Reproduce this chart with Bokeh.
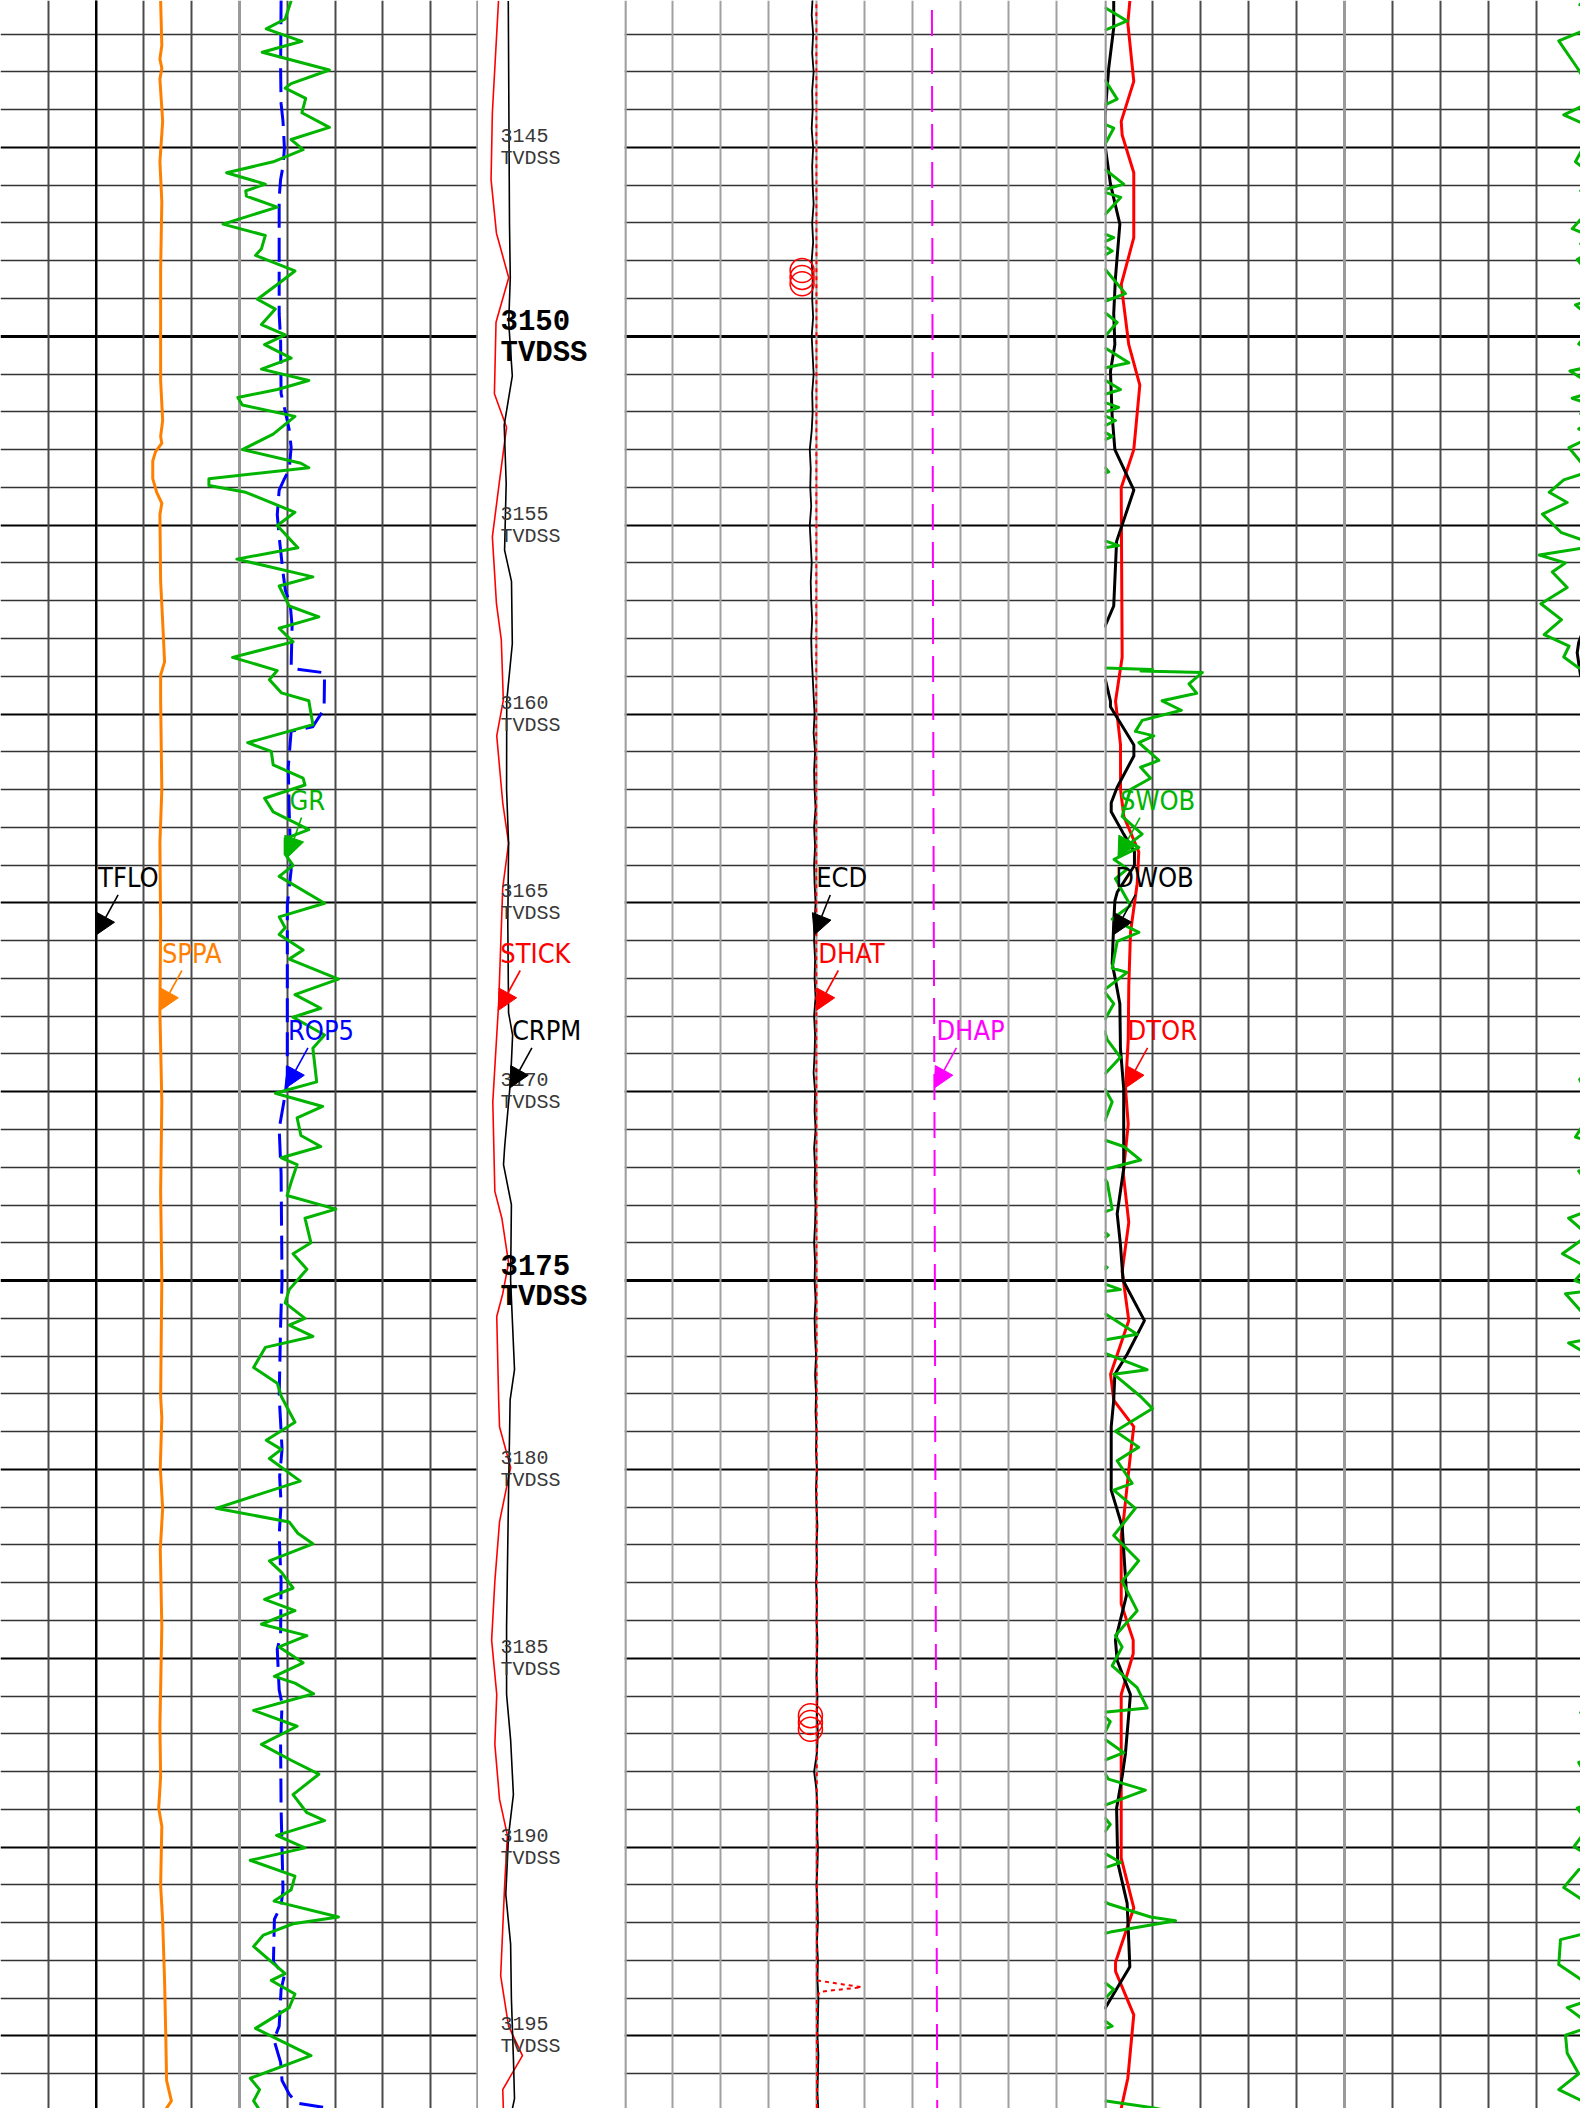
import numpy as np
from bokeh.plotting import figure
from bokeh.layouts import row
from bokeh.models import Range1d, Grid, FixedTicker, Span, Arrow, NormalHead
from bokeh.core.properties import value
from bokeh.embed import file_html
from bokeh.resources import INLINE

# ------------------------------------------------------------------ data
DEPTH_TICKS = list(range(3141, 3198))
DEPTH_LABELS = [3145, 3150, 3155, 3160, 3165, 3170, 3175, 3180, 3185, 3190, 3195]

GR_DEPTH = [3141.12, 3141.60, 3141.86, 3142.19, 3142.48, 3142.95, 3143.31, 3143.43, 3143.70, 3144.08,
            3144.47, 3144.79, 3145.06, 3145.38, 3145.67, 3145.97, 3146.15, 3146.29, 3146.58, 3147.03,
            3147.33, 3147.68, 3147.86, 3148.27, 3148.63, 3149.02, 3149.28, 3149.69, 3149.96, 3150.22,
            3150.58, 3150.87, 3151.17, 3151.41, 3151.62, 3151.82, 3152.12, 3152.59, 3153.00, 3153.36,
            3153.48, 3153.77, 3153.95, 3154.13, 3154.66, 3155.01, 3155.60, 3155.90, 3156.37, 3156.61,
            3157.14, 3157.43, 3157.73, 3158.09, 3158.50, 3158.85, 3159.09, 3159.44, 3159.65,
            3160.28, 3160.76, 3160.99, 3161.35, 3161.70, 3161.88, 3162.23, 3162.59, 3163.06, 3163.30,
            3163.71, 3164.01, 3164.30, 3165.01, 3165.37, 3165.66, 3165.84, 3166.25, 3166.49, 3167.02,
            3167.43, 3167.79, 3168.03, 3168.50, 3168.85, 3169.74, 3170.04, 3170.39, 3170.69, 3171.16,
            3171.45, 3171.75, 3171.93, 3172.40, 3172.75, 3173.11, 3173.35, 3174.00, 3174.29, 3174.70,
            3175.24, 3175.59, 3176.00, 3176.18, 3176.48, 3176.77, 3177.30, 3177.72, 3178.07,
            3178.75, 3179.23, 3179.47, 3179.71, 3180.31, 3181.03, 3181.39, 3181.69, 3181.97, 3182.42,
            3182.72, 3183.14, 3183.44, 3183.74, 3184.10, 3184.40, 3184.70, 3185.12, 3185.48, 3185.66,
            3185.94, 3186.38, 3186.80, 3187.28, 3187.70, 3188.07, 3188.61, 3189.09, 3189.30, 3189.69,
            3190.02, 3190.35, 3190.77, 3191.13, 3191.43, 3191.85, 3192.03, 3192.33, 3192.63, 3193.35,
            3193.53, 3193.89, 3194.25, 3194.80, 3195.52, 3196.12, 3196.42, 3196.72, 3196.96]
GR = [121.6, 119.1, 111.2, 126.1, 109.5, 137.6, 121.6, 119.1, 127.7, 126.1,
      137.6, 121.6, 126.6, 114.1, 94.6, 110.8, 102.6, 102.9, 115.8, 93.1,
      110.8, 109.2, 106.7, 123.2, 115.8, 107.5, 115.0, 109.2, 119.1, 110.5,
      121.6, 109.2, 129.0, 115.8, 99.3, 101.2, 123.2, 114.1, 101.2, 125.7,
      129.0, 87.2, 87.2, 102.6, 123.2, 115.8, 124.4, 98.9, 130.7, 116.6,
      120.8, 133.2, 116.6, 122.4, 97.1, 115.8, 112.5, 117.5, 129.0,
      130.7, 103.4, 113.3, 114.1, 126.6, 127.4, 110.5, 114.1, 129.0, 119.1,
      119.1, 122.4, 116.6, 135.6, 116.6, 119.1, 116.6, 126.6, 120.8, 141.4,
      123.2, 134.0, 122.4, 135.6, 130.7, 132.3, 115.0, 134.8, 124.1, 125.7,
      134.0, 117.5, 124.1, 121.6, 119.9, 140.3, 127.4, 129.9, 122.4, 128.2,
      120.8, 119.1, 127.4, 120.8, 130.7, 110.8, 105.9, 115.8, 117.5,
      123.2, 111.2, 117.5, 112.5, 125.4, 90.2, 120.8, 124.4, 130.7, 112.5,
      117.5, 122.4, 110.5, 123.2, 109.2, 128.2, 116.6, 126.6, 114.6, 123.2,
      131.0, 105.9, 124.1, 109.2, 121.6, 133.2, 122.4, 128.2, 135.6, 115.5,
      127.4, 104.5, 123.2, 121.6, 114.5, 141.4, 122.4, 110.0, 105.9, 119.1,
      113.3, 123.2, 120.8, 106.7, 129.9, 104.5, 108.4, 105.9, 108.4]

ROP5_DEPTH = [3141.10, 3142.90, 3143.84, 3144.31, 3145.02, 3145.50, 3145.85, 3146.32, 3149.40, 3150.11,
              3151.52, 3152.00, 3152.47, 3152.94, 3153.53, 3153.77, 3154.07, 3154.72, 3155.31, 3156.25,
              3156.73, 3157.08, 3157.67, 3158.79, 3158.91, 3159.87, 3160.34, 3160.46, 3161.41, 3162.59,
              3164.13, 3165.07, 3169.56, 3170.04, 3170.98, 3172.16, 3175.00, 3176.18, 3178.07, 3178.75,
              3179.47, 3180.19, 3180.91, 3181.75, 3182.96, 3184.40, 3184.76, 3185.84, 3186.20, 3187.28,
              3188.97, 3191.13, 3191.55, 3191.91, 3193.05, 3193.39, 3193.77, 3194.74, 3195.10, 3195.70,
              3196.18, 3196.54, 3196.78, 3196.92]
ROP5 = [58.7, 58.6, 58.7, 59.1, 59.4, 59.1, 58.6, 58.3, 58.3, 58.6,
        58.7, 59.6, 60.4, 60.8, 60.4, 59.4, 58.3, 57.9, 58.3, 59.1,
        59.6, 60.6, 61.0, 60.8, 67.8, 67.7, 65.3, 60.8, 60.2, 60.4,
        60.8, 60.0, 60.0, 59.6, 58.3, 58.7, 58.9, 58.6, 58.3, 58.6,
        58.9, 58.4, 58.7, 58.3, 58.7, 58.6, 57.9, 58.3, 58.9, 58.6,
        58.7, 59.1, 58.7, 57.3, 57.1, 59.4, 58.7, 58.3, 57.2, 58.6,
        58.9, 60.4, 62.0, 69.1]

SPPA_DEPTH = [3141.12, 3142.30, 3142.66, 3142.90, 3143.19, 3144.31, 3145.38, 3146.44, 3148.22, 3151.17,
              3152.23, 3152.65, 3152.83, 3153.06, 3153.30, 3153.77, 3154.13, 3154.42, 3154.72, 3156.49,
              3157.55, 3158.62, 3158.97, 3159.65, 3162.00, 3163.42, 3165.54, 3167.91, 3170.27, 3172.64,
              3175.00, 3178.07, 3178.63, 3179.95, 3181.03, 3182.12, 3184.16, 3186.80, 3188.13, 3188.97,
              3189.45, 3191.01, 3191.97, 3193.53, 3194.98, 3196.18, 3196.72, 3196.99]
SPPA = [134.0, 135.0, 133.4, 135.0, 133.4, 135.7, 133.4, 135.0, 134.0, 134.0,
        135.7, 134.0, 135.0, 129.7, 127.4, 127.4, 130.7, 135.0, 133.4, 134.0,
        135.7, 137.3, 134.0, 134.0, 135.0, 133.4, 134.0, 133.4, 135.0, 134.0,
        135.0, 134.0, 135.0, 133.7, 135.7, 133.7, 135.0, 133.4, 134.0, 132.4,
        135.0, 134.0, 135.7, 137.3, 138.3, 139.0, 143.0, 137.3]

TFLO_DEPTH = [3141.0, 3160.0, 3180.0, 3197.0]
TFLO = [1000.0, 1000.0, 1000.0, 1000.0]

STICK_DEPTH = [3141.12, 3144.08, 3145.85, 3147.27, 3148.45, 3149.63, 3151.52, 3152.41, 3153.89, 3155.31,
               3157.08, 3158.03, 3159.63, 3160.58, 3162.35, 3163.42, 3164.60, 3167.67, 3168.50, 3170.27,
               3172.64, 3173.35, 3174.53, 3175.35, 3175.95, 3178.15, 3178.87, 3179.95, 3181.39, 3182.96,
               3184.52, 3185.96, 3187.28, 3188.73, 3189.69, 3191.01, 3193.41, 3194.74, 3195.52, 3196.42,
               3197.00]
STICK = [13.7, 9.5, 8.6, 12.3, 20.7, 12.0, 10.9, 19.2, 14.2, 9.5,
         12.3, 15.6, 17.0, 12.5, 16.6, 20.6, 16.6, 13.8, 12.5, 9.8,
         11.2, 16.0, 20.6, 16.6, 12.5, 13.8, 14.4, 22.0, 14.4, 11.2,
         9.0, 12.5, 11.2, 14.4, 19.8, 17.9, 15.2, 20.6, 30.1, 16.6,
         17.1]

CRPM_DEPTH = [3141.12, 3147.03, 3148.45, 3149.63, 3151.05, 3152.35, 3153.89, 3155.66, 3156.49, 3158.14,
              3159.66, 3162.00, 3163.42, 3165.54, 3167.91, 3168.50, 3169.68, 3171.45, 3171.93, 3172.99,
              3175.00, 3177.36, 3178.16, 3180.55, 3184.16, 3185.96, 3187.16, 3188.61, 3189.69, 3191.25,
              3192.57, 3194.01, 3195.58, 3196.66, 3197.00]
CRPM = [61.2, 63.7, 65.3, 62.1, 69.5, 52.8, 56.9, 53.6, 67.8, 69.5,
        58.0, 57.7, 61.8, 60.2, 61.8, 70.1, 66.0, 53.8, 51.4, 67.6,
        66.0, 74.0, 65.0, 61.8, 57.7, 57.7, 66.0, 71.7, 61.8, 56.1,
        66.0, 67.6, 71.7, 74.0, 68.4]

ECD_DEPTH = np.arange(3141.0, 3197.01, 0.5)
ECD = [1.192, 1.190, 1.193, 1.191, 1.194, 1.191, 1.192, 1.190, 1.193, 1.191,
       1.192, 1.194, 1.191, 1.193, 1.190, 1.192, 1.191, 1.193, 1.190, 1.192,
       1.194, 1.191, 1.192, 1.190,
       1.186, 1.188, 1.187, 1.189, 1.186, 1.188, 1.190, 1.188, 1.189, 1.191,
       1.189, 1.190,
       1.192, 1.194, 1.196, 1.194, 1.197, 1.195, 1.196, 1.198, 1.195, 1.197,
       1.195, 1.196, 1.198, 1.196, 1.195, 1.197, 1.196, 1.198, 1.195, 1.197,
       1.196, 1.194, 1.197, 1.196, 1.198, 1.195, 1.197, 1.196, 1.198, 1.197,
       1.195, 1.197, 1.196, 1.198, 1.196, 1.197, 1.199, 1.197,
       1.199, 1.198, 1.200, 1.199, 1.201, 1.199, 1.200, 1.202, 1.200, 1.201,
       1.199, 1.201, 1.200, 1.202, 1.201, 1.200, 1.202, 1.201, 1.203, 1.201,
       1.195, 1.200, 1.202, 1.201, 1.203, 1.202, 1.200, 1.202, 1.203, 1.201,
       1.203, 1.202, 1.204, 1.203, 1.202, 1.204, 1.203, 1.202, 1.204]

DHAT_DEPTH = [3141.0, 3150.0, 3160.0, 3170.0, 3180.0, 3190.0, 3193.50, 3193.53, 3193.71, 3193.83, 3194.0, 3197.0]
DHAT = [59.95, 59.98, 59.9, 59.95, 60.05, 60.1, 60.1, 60.2, 74.1, 61.0, 60.1, 60.15]

DHAP_DEPTH = [3141.36, 3150.0, 3159.0, 3165.0, 3170.0, 3178.0, 3186.0, 3192.0, 3197.0]
DHAP = [384.3, 385.0, 385.8, 386.5, 387.4, 388.3, 389.4, 390.2, 390.9]

MARK_DEPTH = [3148.26, 3148.44, 3148.61, 3186.52, 3186.70, 3186.88]
MARK = [55.5, 55.5, 55.5, 58.1, 58.1, 58.1]

DWOB_DEPTH = [3141.12, 3141.83, 3142.90, 3144.20, 3145.02, 3145.97, 3147.03, 3148.45, 3149.40, 3150.22,
              3150.93, 3152.12, 3153.00, 3154.07, 3155.43, 3157.14, 3157.73, 3158.10, 3158.38, 3158.97,
              3159.10, 3159.66, 3159.81, 3160.82, 3161.11, 3161.94, 3162.35, 3162.59, 3163.18, 3163.65,
              3164.01, 3164.72, 3164.95, 3165.54, 3166.61, 3166.96, 3167.67, 3168.85, 3169.92, 3170.98,
              3172.04, 3173.23, 3174.05, 3175.00, 3176.06, 3176.95, 3177.48, 3178.17, 3178.87, 3180.55,
              3181.51, 3183.32, 3184.52, 3185.06, 3185.96, 3187.52, 3188.13, 3188.97, 3190.41, 3191.49,
              3193.17, 3194.31, 3194.60, 3197.00]
DWOB = [0.48, 0.48, 0.22, 0.02, 0.05, 0.31, 0.80, 0.57, 0.48, 0.54,
        0.31, 0.40, 0.54, 1.53, 0.63, 0.48, -0.02, -0.30, -0.38, -0.21,
        0.05, 0.31, 0.31, 1.53, 1.53, 0.66, 0.35, 0.35, 1.00, 1.56,
        1.56, 0.66, 0.54, 0.48, 0.40, 0.54, 0.80, 0.83, 1.00, 1.00,
        1.00, 0.66, 0.83, 0.97, 2.08, 1.18, 0.54, 0.48, 0.35, 0.35,
        0.92, 1.15, 0.57, 0.66, 1.35, 1.09, 0.92, 0.63, 0.69, 1.18,
        1.32, -0.02, -0.12, -0.12]

DTOR_DEPTH = [3141.12, 3141.71, 3143.25, 3144.31, 3144.67, 3145.67, 3147.39, 3148.63, 3150.22, 3151.29,
              3153.00, 3154.01, 3158.50, 3159.66, 3160.82, 3162.00, 3162.71, 3163.65, 3164.48, 3165.78,
              3167.20, 3168.62, 3169.92, 3170.86, 3172.16, 3173.46, 3174.76, 3176.06, 3177.48, 3178.17,
              3178.87, 3179.59, 3181.27, 3181.75, 3183.56, 3184.52, 3184.88, 3185.96, 3190.29, 3191.61,
              3193.05, 3193.29, 3194.44, 3196.12, 3197.00]
DTOR = [2.64, 2.43, 3.05, 1.74, 1.84, 3.05, 3.05, 1.74, 2.53, 3.68,
        3.05, 1.74, 1.84, 1.15, 1.67, 1.67, 2.01, 3.57, 3.41, 2.71,
        2.53, 2.47, 2.19, 2.47, 1.95, 2.53, 1.84, 2.53, 0.63, 0.97,
        3.05, 2.71, 2.01, 1.74, 1.74, 2.99, 2.99, 1.74, 1.74, 3.05,
        1.15, 1.15, 3.05, 2.43, 1.67]

SWOB_DEPTH = [3141.20, 3141.65, 3142.18, 3142.89, 3143.72, 3144.14, 3144.49, 3145.38, 3145.97, 3146.15,
              3146.32, 3147.15, 3147.39, 3147.55, 3147.74, 3147.97, 3148.87, 3149.17, 3149.63, 3150.20,
              3150.70, 3150.92, 3151.41, 3151.64, 3151.88, 3152.05, 3152.23, 3152.45, 3152.65, 3152.95,
              3153.59, 3153.80, 3154.13, 3154.40, 3154.71, 3155.20, 3155.54, 3155.79, 3156.00, 3156.24,
              3156.65, 3157.08, 3157.50, 3157.90, 3158.20, 3158.49, 3158.78, 3158.82, 3158.86, 3158.90,
              3159.20, 3159.45, 3159.65, 3159.90, 3160.17, 3160.46, 3160.58, 3160.76, 3161.23, 3161.41,
              3161.70, 3162.00, 3162.71, 3163.18, 3163.42, 3163.53, 3163.85, 3164.10, 3164.36, 3165.07,
              3165.43, 3165.78, 3166.02, 3166.73, 3166.84, 3167.32, 3167.67, 3168.20, 3168.62, 3169.09,
              3169.68, 3170.27, 3170.86, 3171.20, 3171.45, 3171.81, 3172.10, 3172.40, 3173.11, 3173.35,
              3173.80, 3174.29, 3174.65, 3175.00, 3175.24, 3175.35, 3175.80, 3176.42, 3176.65, 3176.95,
              3177.36, 3177.48, 3178.07, 3178.39, 3178.99, 3179.41, 3179.77, 3180.37, 3180.55, 3181.03,
              3181.75, 3182.42, 3182.96, 3183.74, 3184.40, 3184.70, 3185.20, 3185.78, 3186.32, 3186.44,
              3186.68, 3187.10, 3187.50, 3187.76, 3188.20, 3188.49, 3188.97, 3189.40, 3189.99, 3190.41,
              3190.60, 3191.07, 3191.50, 3191.85, 3191.95, 3192.25, 3192.45, 3193.11, 3193.50, 3193.77,
              3194.13, 3194.25, 3194.74, 3194.98, 3195.46, 3196.00, 3196.42, 3196.70, 3196.90, 3197.00]
SWOB = [-0.30, 1.18, -1.34, -0.38, 0.66, -1.08, 0.48, -0.47, 1.00, -0.20,
        0.85, -0.64, 0.48, -0.20, 0.40, -0.38, 1.09, -0.47, 0.66, -0.30,
        1.27, -0.76, 0.83, -0.64, 0.74, -0.20, 0.57, -0.30, 0.40, -0.81,
        0.22, -1.08, -1.84, -0.90, -2.19, -1.20, 0.74, -2.36, -1.00, -1.68,
        -0.90, -2.27, -1.20, -2.10, -0.80, -1.08, -0.30, 2.50, 1.90, 5.10,
        4.40, 4.80, 3.00, 4.00, 1.96, 1.61, 2.57, 1.79, 2.83, 1.88,
        2.40, 1.35, 0.92, 1.96, 1.35, 1.79, 0.50, 1.20, 0.57, 1.35,
        0.40, 1.79, 0.66, 0.40, 1.18, -0.05, 0.48, -0.10, 0.14, 0.83,
        -0.25, 0.40, -0.05, -0.47, 1.00, 1.88, -0.30, 0.14, 0.40, -0.83,
        0.20, -1.15, 0.14, -0.50, 0.83, -0.99, -0.20, 1.70, -0.83, 0.14,
        2.22, 0.48, 1.88, 2.50, 0.57, 1.78, 0.66, 1.44, 0.48, 1.61,
        0.48, 1.78, 0.92, 1.70, 0.57, 0.92, 0.40, 1.70, 2.22, -0.20,
        0.30, -0.10, 1.01, -0.30, 0.20, 2.13, -0.38, 0.30, -0.55, 0.83,
        -0.30, -1.08, 0.20, 2.40, 3.70, 0.30, -1.25, -1.34, -0.20, 0.48,
        -0.20, -0.90, 0.40, -0.99, -0.90, -0.30, -1.34, -0.20, 2.50, 3.50]

# curve scales: (left value, right value) across the track
SCALES = {"TFLO": (0, 5000), "SPPA": (0, 400), "GR": (0, 200), "ROP5": (0, 100),
          "STICK": (0, 100), "CRPM": (0, 300),
          "ECD": (0.8, 1.8), "DHAT": (0, 150), "DHAP": (0, 600),
          "DWOB": (0, 25), "DTOR": (0, 50), "SWOB": (0, 25)}

# ------------------------------------------------------------------ layout
H = 2108
PXM = 37.77                      # pixels per metre
TOP = 3150 - 335.8 / PXM
BOTTOM = TOP + H / PXM
yr = Range1d(BOTTOM, TOP)
LBL_FONT = value("Liberation Sans Narrow, DejaVu Sans Condensed, Liberation Sans, sans-serif")
MONO = value("Liberation Mono")
ROWS = [3163.8, 3165.85, 3167.85, 3169.9]

def make_fig(width, a, b):
    p = figure(width=width, height=H, x_range=Range1d(a, b), y_range=yr,
               x_axis_type=None, y_axis_type=None, toolbar_location=None,
               output_backend="svg", min_border=0)
    p.outline_line_color = None
    p.background_fill_color = "white"
    p.border_fill_color = "white"
    return p

def add_range(p, name, a, b):
    lo, hi = SCALES[name]
    p.extra_x_ranges[name] = Range1d(lo + (hi - lo) * a / 10.0, lo + (hi - lo) * b / 10.0)

def hgrid(p):
    minor = [d for d in DEPTH_TICKS if d % 5 != 0]
    mid = [d for d in DEPTH_TICKS if d % 5 == 0 and d % 25 != 0]
    major = [d for d in DEPTH_TICKS if d % 25 == 0]
    for ticks, col, w in [(minor, "#333333", 1.5), (mid, "black", 2.0), (major, "black", 3.2)]:
        p.add_layout(Grid(dimension=1, ticker=FixedTicker(ticks=ticks),
                          grid_line_color=col, grid_line_width=w))

def vgrid(p, ticks, col, w):
    p.add_layout(Grid(dimension=0, ticker=FixedTicker(ticks=ticks),
                      grid_line_color=col, grid_line_width=w))

def wrap(d, v, lo, hi):
    span = hi - lo
    xs, ys = [], []
    for i in range(len(v)):
        if i > 0:
            v0, v1 = v[i - 1], v[i]
            if (v0 - lo) * (v1 - lo) < 0:
                t = (lo - v0) / (v1 - v0)
                dz = d[i - 1] + t * (d[i] - d[i - 1])
                if v0 >= lo:
                    xs += [lo, np.nan, hi]
                else:
                    xs += [hi, np.nan, lo]
                ys += [dz, np.nan, dz]
        xs.append(v[i] if v[i] >= lo else v[i] + span)
        ys.append(d[i])
    return np.array(xs, dtype=float), np.array(ys, dtype=float)

def label(p, name, depth, vals, tip_d, color, divpx, dx=22):
    lo, hi = SCALES[name]
    upp = (hi - lo) / (10.0 * divpx)
    tx = float(np.interp(tip_d, depth, vals))
    p.add_layout(Arrow(end=NormalHead(size=20, fill_color=color, line_color=color, line_width=1),
                       x_start=tx + dx * upp, y_start=tip_d - 40.0 / PXM,
                       x_end=tx, y_end=tip_d, line_color=color, line_width=1.6,
                       x_range_name=name))
    p.text(x=[tx], y=[tip_d], text=[name], x_offset=2, y_offset=-57,
           text_baseline="alphabetic", text_align="left", text_font=LBL_FONT,
           text_font_size="27px", text_color=color, x_range_name=name)

# ---------------- track 1
p1 = make_fig(478, 0, 10)
hgrid(p1)
vgrid(p1, [1, 2, 3, 4, 6, 7, 8, 9], "#4a4a4a", 2)
vgrid(p1, [5], "#9a9a9a", 3)
p1.add_layout(Span(location=10 - 1.0 / 47.8, dimension="height", line_color="#9a9a9a", line_width=2.5))
for n in ["TFLO", "SPPA", "GR", "ROP5"]:
    add_range(p1, n, 0, 10)
p1.line(TFLO, TFLO_DEPTH, x_range_name="TFLO", line_color="black", line_width=2.2)
p1.line(SPPA, SPPA_DEPTH, x_range_name="SPPA", line_color="#ff8000", line_width=3, line_join="round")
p1.line(ROP5, ROP5_DEPTH, x_range_name="ROP5", line_color="#0000ff", line_width=3, line_dash="24 10")
p1.line(GR, GR_DEPTH, x_range_name="GR", line_color="#00b400", line_width=3, line_join="round")
label(p1, "GR", GR_DEPTH, GR, ROWS[0], "#00b400", 47.8, dx=14)
label(p1, "TFLO", TFLO_DEPTH, TFLO, ROWS[1], "black", 47.8)
label(p1, "SPPA", SPPA_DEPTH, SPPA, ROWS[2], "#ff8000", 47.8)
label(p1, "ROP5", ROP5_DEPTH, ROP5, ROWS[3], "#0000ff", 47.8)

# ---------------- depth track
p2 = make_fig(146, 0, 10)
for n in ["STICK", "CRPM"]:
    add_range(p2, n, 0, 10)
p2.line(STICK, STICK_DEPTH, x_range_name="STICK", line_color="red", line_width=1.6)
p2.line(CRPM, CRPM_DEPTH, x_range_name="CRPM", line_color="black", line_width=1.6)
norm = [d for d in DEPTH_LABELS if d % 25 != 0]
bold = [d for d in DEPTH_LABELS if d % 25 == 0]
p2.text(x=[0] * len(norm), y=norm, text=[str(d) for d in norm], x_offset=22, y_offset=-12,
        text_baseline="alphabetic", text_font=MONO, text_font_size="20px", text_color="#383838")
p2.text(x=[0] * len(norm), y=norm, text=["TVDSS"] * len(norm), x_offset=22, y_offset=11,
        text_baseline="alphabetic", text_font=MONO, text_font_size="20px", text_color="#383838")
p2.text(x=[0] * len(bold), y=bold, text=[str(d) for d in bold], x_offset=22, y_offset=-16,
        text_baseline="alphabetic", text_font=MONO, text_font_size="29px", text_font_style="bold",
        text_color="black")
p2.text(x=[0] * len(bold), y=bold, text=["TVDSS"] * len(bold), x_offset=22, y_offset=17,
        text_baseline="alphabetic", text_font=MONO, text_font_size="29px", text_font_style="bold",
        text_color="black")
label(p2, "STICK", STICK_DEPTH, STICK, ROWS[2], "red", 14.6)
label(p2, "CRPM", CRPM_DEPTH, CRPM, ROWS[3], "black", 14.6)

# ---------------- track 3
p3 = make_fig(480, 0, 10)
hgrid(p3)
vgrid(p3, [1, 2, 3, 4, 5, 6, 7, 8, 9], "#a0a0a0", 2)
p3.add_layout(Span(location=1.0 / 48, dimension="height", line_color="#a0a0a0", line_width=2.5))
for n in ["ECD", "DHAT", "DHAP"]:
    add_range(p3, n, 0, 10)
p3.line(DHAP, DHAP_DEPTH, x_range_name="DHAP", line_color="#ff00ff", line_width=2, line_dash="26 12")
p3.line(ECD, ECD_DEPTH, x_range_name="ECD", line_color="black", line_width=1.8, line_join="round")
p3.line(DHAT, DHAT_DEPTH, x_range_name="DHAT", line_color="red", line_width=2, line_dash="4 4")
p3.scatter(MARK, MARK_DEPTH, x_range_name="DHAT", marker="circle", size=24,
           fill_color=None, line_color="red", line_width=1.5)
label(p3, "ECD", ECD_DEPTH, ECD, ROWS[1], "black", 48, dx=16)
label(p3, "DHAT", DHAT_DEPTH, DHAT, ROWS[2], "red", 48)
label(p3, "DHAP", DHAP_DEPTH, DHAP, ROWS[3], "#ff00ff", 48)

# ---------------- track 4
B4 = 476 / 48.0
p4 = make_fig(476, 0, B4)
hgrid(p4)
vgrid(p4, [1, 2, 3, 4, 6, 7, 8, 9], "#4a4a4a", 2)
vgrid(p4, [5], "#9a9a9a", 3)
p4.add_layout(Span(location=1.0 / 48, dimension="height", line_color="#9a9a9a", line_width=2.5))
for n in ["DWOB", "DTOR", "SWOB"]:
    add_range(p4, n, 0, B4)
p4.line(DTOR, DTOR_DEPTH, x_range_name="DTOR", line_color="red", line_width=3, line_join="round")
wx, wy = wrap(DWOB_DEPTH, DWOB, *SCALES["DWOB"])
p4.line(wx, wy, x_range_name="DWOB", line_color="black", line_width=3, line_join="round")
sx, sy = wrap(SWOB_DEPTH, SWOB, *SCALES["SWOB"])
p4.line(sx, sy, x_range_name="SWOB", line_color="#00b400", line_width=3, line_join="round")
label(p4, "SWOB", SWOB_DEPTH, SWOB, ROWS[0], "#00b400", 48)
label(p4, "DWOB", DWOB_DEPTH, DWOB, ROWS[1], "black", 48)
label(p4, "DTOR", DTOR_DEPTH, DTOR, ROWS[3], "red", 48)

layout = row(p1, p2, p3, p4)
open("out.html", "w").write(file_html(layout, INLINE))
